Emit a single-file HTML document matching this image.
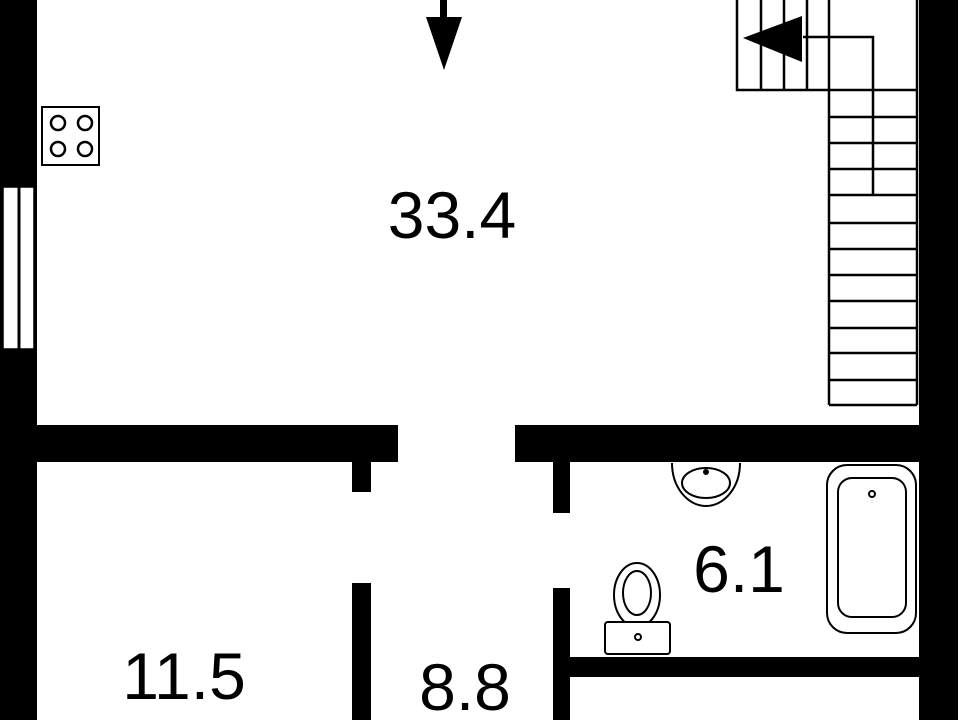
<!DOCTYPE html>
<html><head><style>html,body{margin:0;padding:0;background:#fff;width:960px;height:720px;overflow:hidden}</style></head>
<body>
<svg width="960" height="720" viewBox="0 0 960 720" xmlns="http://www.w3.org/2000/svg">
<g fill="#000">
<rect x="0" y="0" width="37" height="720"/>
<rect x="919" y="0" width="39" height="720"/>
<rect x="0" y="425" width="398" height="37"/>
<rect x="515" y="425" width="443" height="37"/>
<rect x="352" y="460" width="19" height="32"/>
<rect x="553" y="460" width="17" height="53"/>
<rect x="352" y="583" width="19" height="137"/>
<rect x="553" y="588" width="17" height="132"/>
<rect x="570" y="657" width="350" height="20"/>
<rect x="440" y="0" width="7" height="18"/>
<polygon points="426,17 462,17 444,70"/>
<polygon points="743,38 802,16 802,62"/>
</g>
<!-- window -->
<rect x="3" y="187" width="31" height="162" fill="#fff" stroke="#000" stroke-width="1.5"/>
<line x1="19" y1="187" x2="19" y2="349" stroke="#000" stroke-width="3"/>
<!-- stove -->
<rect x="42" y="107" width="57" height="58" fill="#fff" stroke="#000" stroke-width="2"/>
<g fill="none" stroke="#000" stroke-width="2.5">
<ellipse cx="58" cy="123" rx="7" ry="7"/><ellipse cx="85" cy="123" rx="7" ry="7"/>
<ellipse cx="58" cy="149" rx="7" ry="7"/><ellipse cx="85" cy="149" rx="7" ry="7"/>
</g>
<!-- stairs -->
<g fill="none" stroke="#000" stroke-width="2.5">
<polyline points="737,0 737,90 917,90"/>
<line x1="761" y1="0" x2="761" y2="90"/>
<line x1="784" y1="0" x2="784" y2="90"/>
<line x1="807" y1="0" x2="807" y2="90"/>
<line x1="829" y1="0" x2="829" y2="405"/>
<polyline points="803,37 873,37 873,195"/>
<line x1="917" y1="0" x2="917" y2="405"/>
<line x1="829" y1="117" x2="917" y2="117"/>
<line x1="829" y1="143" x2="917" y2="143"/>
<line x1="829" y1="169" x2="917" y2="169"/>
<line x1="829" y1="195" x2="917" y2="195"/>
<line x1="829" y1="223" x2="917" y2="223"/>
<line x1="829" y1="249" x2="917" y2="249"/>
<line x1="829" y1="275" x2="917" y2="275"/>
<line x1="829" y1="301" x2="917" y2="301"/>
<line x1="829" y1="328" x2="917" y2="328"/>
<line x1="829" y1="353" x2="917" y2="353"/>
<line x1="829" y1="380" x2="917" y2="380"/>
<line x1="829" y1="405" x2="917" y2="405"/>
</g>
<!-- sink -->
<g fill="none" stroke="#000" stroke-width="2">
<path d="M672,463 A34,43 0 0 0 740,463"/>
<ellipse cx="706" cy="483" rx="24" ry="15"/>
<circle cx="706" cy="472" r="2" fill="#000"/>
</g>
<!-- bathtub -->
<g fill="none" stroke="#000" stroke-width="2">
<rect x="827" y="465" width="89" height="168" rx="20"/>
<rect x="838" y="478" width="68" height="139" rx="14"/>
<circle cx="872" cy="494" r="3"/>
</g>
<!-- toilet -->
<g fill="none" stroke="#000" stroke-width="2">
<ellipse cx="637" cy="595" rx="23" ry="32"/>
<ellipse cx="637" cy="593" rx="14" ry="22"/>
<rect x="605" y="622" width="65" height="32" rx="3" fill="#fff"/>
<circle cx="638" cy="637" r="3"/>
</g>
<g font-family="Liberation Sans, sans-serif" font-size="66" fill="#000" text-anchor="middle">
<text x="452" y="238">33.4</text>
<text x="739" y="592">6.1</text>
<text x="184" y="699">11.5</text>
<text x="465" y="710">8.8</text>
</g>
</svg>
</body></html>
